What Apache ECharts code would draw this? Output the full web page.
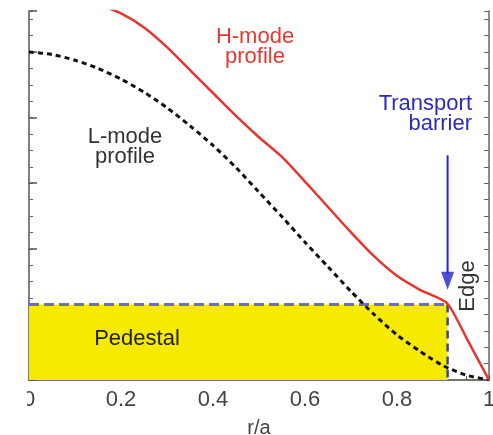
<!DOCTYPE html>
<html><head><meta charset="utf-8">
<script src="https://cdn.jsdelivr.net/npm/echarts@6/dist/echarts.min.js"></script>
<style>html,body{margin:0;padding:0;background:#fff;}#c{width:493px;height:435px;}</style>
</head><body><div id="c"></div>
<script>
// ---- data ----
const xTickValues = [0, 0.2, 0.4, 0.6, 0.8, 1];
const lModeX = [0, 0.05, 0.1, 0.15, 0.2, 0.25, 0.3, 0.35, 0.4, 0.45, 0.5, 0.55, 0.6, 0.65, 0.7, 0.75, 0.8, 0.85, 0.9, 0.95, 1.0];
const lModeY = [20.0, 19.85, 19.5, 19.0, 18.35, 17.55, 16.6, 15.5, 14.3, 12.95, 11.45, 9.95, 8.4, 6.9, 5.4, 4.0, 2.75, 1.75, 0.88, 0.3, 0];
const hModeX = [0, 0.1, 0.15, 0.2, 0.25, 0.3, 0.35, 0.4, 0.45, 0.5, 0.55, 0.6, 0.65, 0.7, 0.75, 0.8, 0.85, 0.909, 0.955, 1.0];
const hModeY = [23.9, 23.3, 22.9, 22.35, 21.5, 20.3, 18.9, 17.5, 16.1, 14.8, 13.6, 12.1, 10.55, 9.0, 7.55, 6.35, 5.5, 4.68, 2.35, 0];
const pedestalX = [0, 0.91];
const pedestalHeight = 4.6;
const barrierX = 0.91;
const arrowTopY = 13.7;
const arrowHeadY = 6.05;
const arrowShaftEndY = 6.5;

const FONT = "'Liberation Sans', Arial, Helvetica, sans-serif";
const chart = echarts.init(document.getElementById('c'), null, {renderer: 'canvas'});

const pair = (xs, ys) => xs.map((x, i) => [x, ys[i]]);

const option = {
  animation: false,
  backgroundColor: '#ffffff',
  grid: {left: 29, right: 4, top: 11, bottom: 55, containLabel: false, outerBoundsMode: 'none'},
  xAxis: {
    type: 'value', min: 0, max: 1, interval: 0.2, position: 'bottom',
    axisLine: {show: true, onZero: false, lineStyle: {color: '#4a4a3a', width: 1.5}},
    axisTick: {show: true, inside: true, length: 5, lineStyle: {color: '#555', width: 1}},
    minorTick: {show: true, splitNumber: 4, length: 4, lineStyle: {color: '#555', width: 1}},
    axisLabel: {fontSize: 22, color: '#444', margin: 9, fontFamily: FONT,
      formatter: v => xTickValues.includes(+v.toFixed(2)) ? String(+v.toFixed(2)) : ''},
    splitLine: {show: false},
    name: 'r/a', nameLocation: 'middle', nameGap: 38,
    nameTextStyle: {fontSize: 20, color: '#444', fontFamily: FONT}
  },
  yAxis: [
    {type: 'value', min: 0, max: 22.5, interval: 1, position: 'left',
     axisLine: {show: true, onZero: false, lineStyle: {color: '#555', width: 1.5}},
     axisTick: {show: true, inside: true, length: 4, lineStyle: {color: '#666'}},
     axisLabel: {show: false}, splitLine: {show: false}},
    {type: 'value', min: 0, max: 22.5, interval: 4, position: 'left',
     axisLine: {show: false},
     axisTick: {show: true, inside: true, length: 8, lineStyle: {color: '#555', width: 1.5}},
     axisLabel: {show: false}, splitLine: {show: false}},
    {type: 'value', min: 0, max: 22.5, interval: 1, position: 'right',
     axisLine: {show: true, onZero: false, lineStyle: {color: '#666', width: 1.5}},
     axisTick: {show: true, inside: true, length: 5, lineStyle: {color: '#666'}},
     axisLabel: {show: false}, splitLine: {show: false}}
  ],
  series: [
    {type: 'line', name: 'Pedestal', data: pedestalX.map(x => [x, pedestalHeight]),
     symbol: 'none', z: 1,
     lineStyle: {color: '#7068d6', width: 3, type: [10, 5]},
     areaStyle: {color: '#f6ea00', opacity: 1}},
    {type: 'line', name: 'pedestalEdge', data: [[barrierX, pedestalHeight], [barrierX, 0]],
     symbol: 'none', z: 2,
     lineStyle: {color: '#3b4a86', width: 2.5, type: [8, 5]}},
    {type: 'line', name: 'L-mode', data: pair(lModeX, lModeY), symbol: 'none', z: 3,
     smooth: 0.25,
     lineStyle: {color: '#111', width: 3, type: [5, 4]}},
    {type: 'line', name: 'H-mode', data: pair(hModeX, hModeY), symbol: 'none', z: 4,
     smooth: 0.2,
     lineStyle: {color: '#e8352d', width: 2.5}},
    {type: 'line', name: 'arrowShaft', data: [[barrierX, arrowTopY], [barrierX, arrowShaftEndY]],
     symbol: 'none', z: 5, lineStyle: {color: '#2222cc', width: 2}},
    {type: 'scatter', name: 'arrowHead', data: [[barrierX, arrowHeadY]], z: 5,
     symbol: 'triangle', symbolRotate: 180, symbolSize: [13, 18],
     itemStyle: {color: '#2222cc'}}
  ],
  graphic: [
    {type: 'rect', shape: {x: 0, y: 382, width: 27, height: 30}, style: {fill: '#fff'}, z: 100},
    {type: 'text', x: 255, y: 47, z: 50, style: {text: 'H-mode\nprofile', fill: '#e03a35',
      font: '22px ' + FONT, align: 'center', verticalAlign: 'middle', lineHeight: 20}},
    {type: 'text', x: 125, y: 147, z: 50, style: {text: 'L-mode\nprofile', fill: '#333',
      font: '22px ' + FONT, align: 'center', verticalAlign: 'middle', lineHeight: 20}},
    {type: 'text', x: 472, y: 114, z: 50, style: {text: 'Transport\nbarrier', fill: '#2a2ac0',
      font: '22px ' + FONT, align: 'right', verticalAlign: 'middle', lineHeight: 20}},
    {type: 'text', x: 468, y: 286, z: 50, rotation: Math.PI / 2, style: {text: 'Edge', fill: '#333',
      font: '22px ' + FONT, align: 'center', verticalAlign: 'middle'}},
    {type: 'text', x: 137, y: 339, z: 50, style: {text: 'Pedestal', fill: '#222',
      font: '22px ' + FONT, align: 'center', verticalAlign: 'middle'}}
  ]
};
chart.setOption(option);
</script>
</body></html>
